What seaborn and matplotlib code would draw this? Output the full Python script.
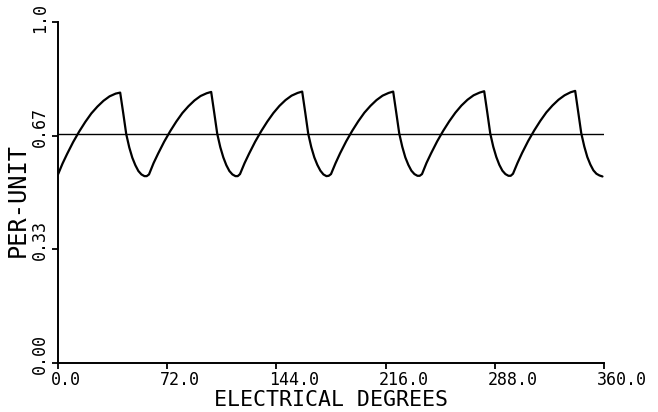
import matplotlib
matplotlib.use("Agg")
import matplotlib.pyplot as plt
from matplotlib.transforms import ScaledTranslation
import seaborn as sns
import pandas as pd

# ---- data ----
degrees = [
    0, 3, 6, 10, 14, 18, 22, 26, 30, 34, 38, 41, 43, 45, 47, 49, 51, 53, 55, 57, 58.5,
    60, 63, 66, 70, 74, 78, 82, 86, 90, 94, 98, 101, 103, 105, 107, 109, 111, 113, 115, 117, 118.5,
    120, 123, 126, 130, 134, 138, 142, 146, 150, 154, 158, 161, 163, 165, 167, 169, 171, 173, 175, 177, 178.5,
    180, 183, 186, 190, 194, 198, 202, 206, 210, 214, 218, 221, 223, 225, 227, 229, 231, 233, 235, 237, 238.5,
    240, 243, 246, 250, 254, 258, 262, 266, 270, 274, 278, 281, 283, 285, 287, 289, 291, 293, 295, 297, 298.5,
    300, 303, 306, 310, 314, 318, 322, 326, 330, 334, 338, 341, 343, 345, 347, 349, 351, 353, 355, 357,
    359,
]
per_unit = [
    0.553, 0.585, 0.613, 0.648, 0.679, 0.707, 0.732, 0.752, 0.769, 0.782, 0.790, 0.793, 0.733, 0.671, 0.632, 0.602, 0.580, 0.563, 0.553, 0.548, 0.548,
    0.553, 0.586, 0.614, 0.649, 0.680, 0.708, 0.733, 0.753, 0.770, 0.783, 0.791, 0.795, 0.734, 0.672, 0.633, 0.603, 0.580, 0.563, 0.553, 0.548, 0.548,
    0.554, 0.586, 0.614, 0.649, 0.680, 0.708, 0.733, 0.754, 0.771, 0.784, 0.792, 0.796, 0.735, 0.672, 0.633, 0.603, 0.581, 0.564, 0.553, 0.548, 0.549,
    0.554, 0.586, 0.615, 0.650, 0.681, 0.709, 0.734, 0.754, 0.771, 0.784, 0.792, 0.796, 0.735, 0.673, 0.634, 0.603, 0.581, 0.564, 0.554, 0.549, 0.549,
    0.554, 0.587, 0.615, 0.650, 0.681, 0.709, 0.734, 0.755, 0.772, 0.785, 0.793, 0.797, 0.736, 0.673, 0.634, 0.604, 0.581, 0.564, 0.554, 0.549, 0.549,
    0.555, 0.587, 0.616, 0.651, 0.682, 0.710, 0.735, 0.755, 0.772, 0.785, 0.794, 0.798, 0.736, 0.674, 0.635, 0.604, 0.582, 0.565, 0.555, 0.550,
    0.547,
]
avg_degrees = [0, 360]
avg_value = [0.672, 0.672]

x_ticks = [0.0, 72.0, 144.0, 216.0, 288.0, 360.0]
x_tick_labels = ["0.0", "72.0", "144.0", "216.0", "288.0", "360.0"]
y_ticks = [0.0, 1 / 3, 2 / 3, 1.0]
y_tick_labels = ["0.00", "0.33", "0.67", "1.0"]

x_label = "ELECTRICAL DEGREES"
y_label = "PER-UNIT"

# ---- plotting ----
sns.set_theme(style="ticks")
plt.rcParams["font.family"] = ["DejaVu Sans Mono", "DejaVu Sans"]

wave = pd.DataFrame({"deg": degrees, "pu": per_unit})
avg = pd.DataFrame({"deg": avg_degrees, "pu": avg_value})

fig = plt.figure(figsize=(6.58, 4.12), dpi=100)
ax = fig.add_axes([58 / 658, 1 - 363 / 412, 546 / 658, 341 / 412])

sns.lineplot(data=wave, x="deg", y="pu", ax=ax, color="black", linewidth=1.6,
             sort=False, estimator=None)
sns.lineplot(data=avg, x="deg", y="pu", ax=ax, color="black", linewidth=1.0,
             sort=False, estimator=None)

ax.set_xlim(0, 360)
ax.set_ylim(0, 1.0)
ax.margins(0)
sns.despine(ax=ax)
for side in ("left", "bottom"):
    ax.spines[side].set_linewidth(1.4)
    ax.spines[side].set_color("black")

ax.set_xticks(x_ticks)
ax.set_xticklabels(x_tick_labels)
ax.set_yticks(y_ticks)
ax.set_yticklabels(y_tick_labels)

ax.tick_params(axis="both", direction="out", length=4.5, width=1.3, color="black",
               labelsize=12, labelcolor="black")
ax.tick_params(axis="x", pad=1.5)
ax.tick_params(axis="y", pad=2)

dx = ScaledTranslation(-7 / 100, 0, fig.dpi_scale_trans)
for lab in ax.get_xticklabels():
    lab.set_horizontalalignment("left")
    lab.set_transform(lab.get_transform() + dx)

dy = ScaledTranslation(0, -11 / 100, fig.dpi_scale_trans)
for lab in ax.get_yticklabels():
    lab.set_rotation(90)
    lab.set_verticalalignment("bottom")
    lab.set_transform(lab.get_transform() + dy)

ax.set_xlabel(x_label, fontsize=15.5, color="black", labelpad=0)
ax.set_ylabel(y_label, fontsize=17, color="black")
ax.xaxis.set_label_coords(0.5, (363 - 406.5) / 341)
ax.xaxis.label.set_verticalalignment("baseline")
ax.yaxis.set_label_coords(-0.073, 0.478)
ax.yaxis.label.set_verticalalignment("center")

fig.savefig("out.png", dpi=100)
